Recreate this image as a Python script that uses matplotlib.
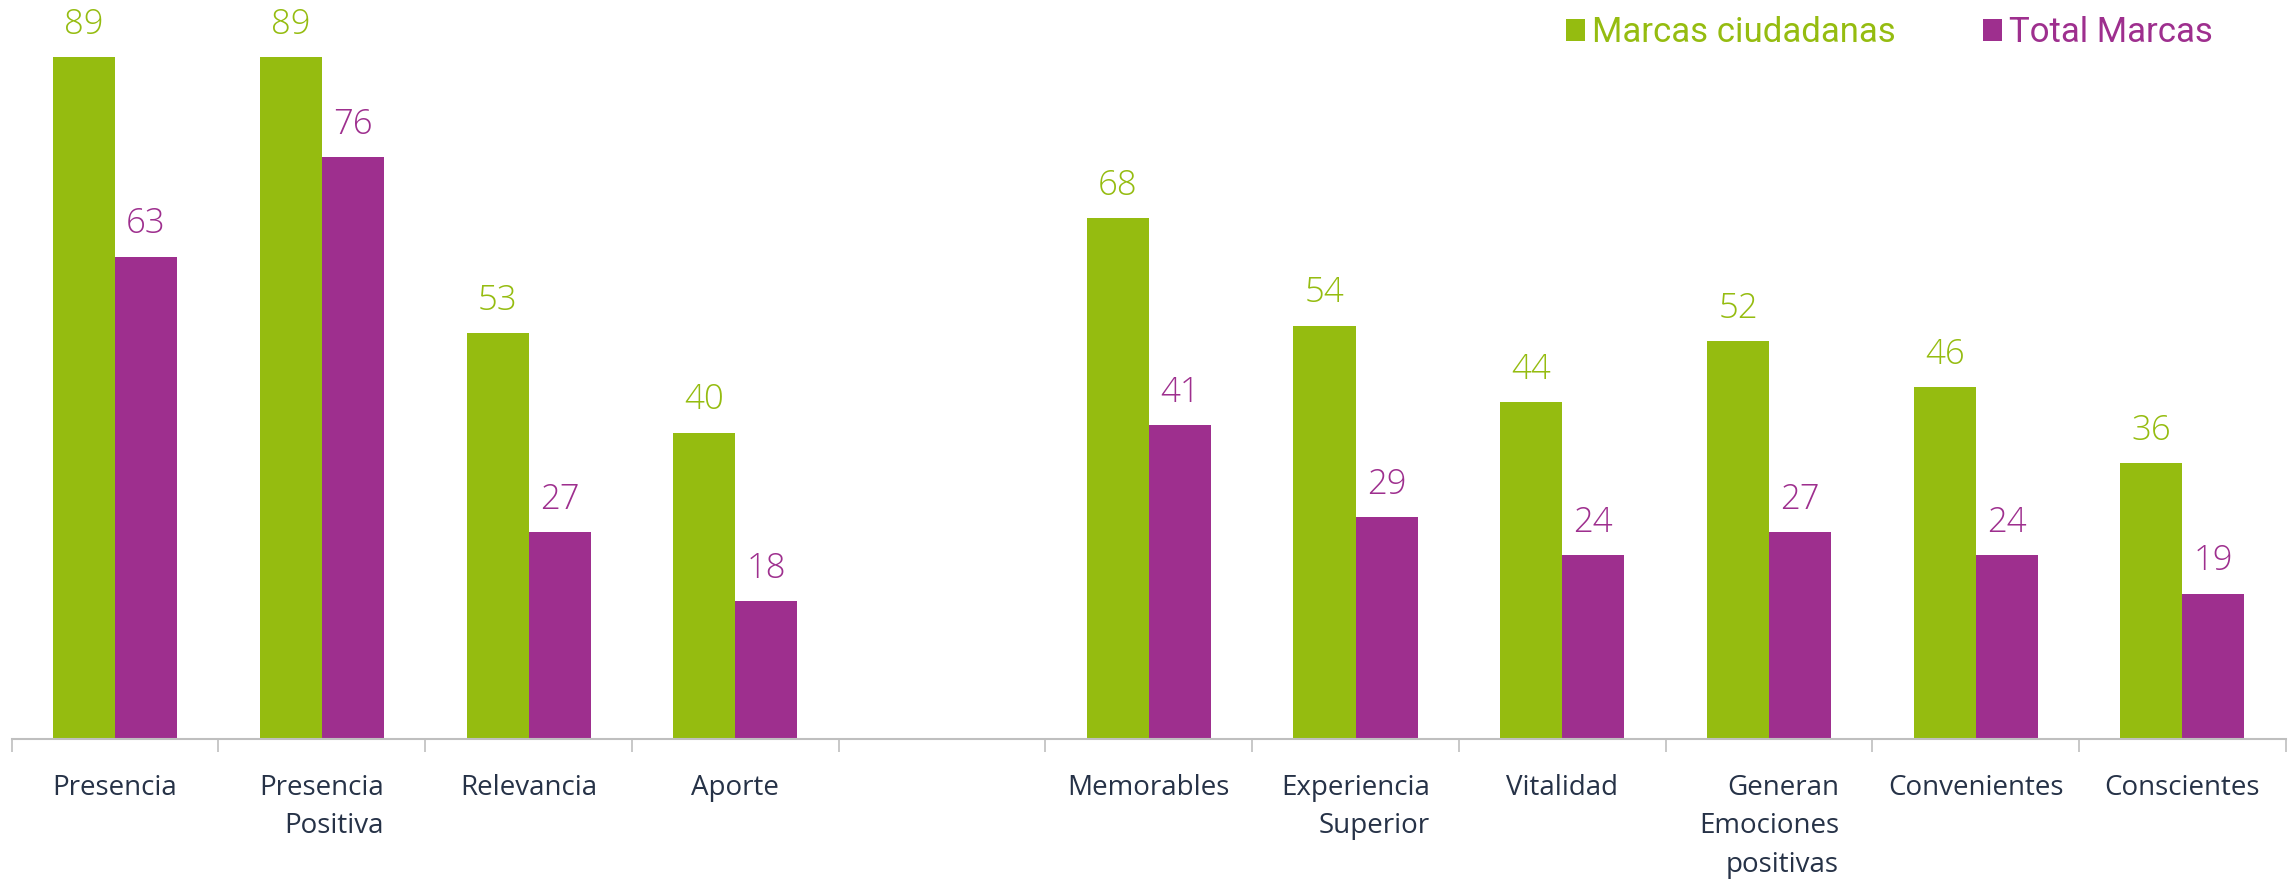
import numpy as np
import matplotlib
matplotlib.use("Agg")
import matplotlib.pyplot as plt

categories = ["Presencia", "Presencia\nPositiva", "Relevancia", "Aporte", "",
              "Memorables", "Experiencia\nSuperior", "Vitalidad",
              "Generan\nEmociones\npositivas", "Convenientes", "Conscientes"]
marcas_ciudadanas = [89, 89, 53, 40, np.nan, 68, 54, 44, 52, 46, 36]
total_marcas = [63, 76, 27, 18, np.nan, 41, 29, 24, 27, 24, 19]
series_names = ["Marcas ciudadanas", "Total Marcas"]

GREEN = "#95BC10"
PURPLE = "#9E2F8E"
LABEL = "#263247"

fig = plt.figure(figsize=(22.95, 8.82), dpi=100)
ax = fig.add_axes([0.0051, 0.162, 0.9909, 0.838])

x = np.arange(len(categories))
w = 0.3
ax.bar(x - w / 2, marcas_ciudadanas, w, color=GREEN, label=series_names[0])
ax.bar(x + w / 2, total_marcas, w, color=PURPLE, label=series_names[1])

for xi, v in zip(x, marcas_ciudadanas):
    if not np.isnan(v):
        ax.annotate(f"{v:g}", (xi - w / 2, v), xytext=(0, 11), textcoords="offset points",
                    ha="center", va="bottom", color=GREEN, fontsize=25,
                    family="Open Sans", fontweight="light")
for xi, v in zip(x, total_marcas):
    if not np.isnan(v):
        ax.annotate(f"{v:g}", (xi + w / 2, v), xytext=(0, 11), textcoords="offset points",
                    ha="center", va="bottom", color=PURPLE, fontsize=25,
                    family="Open Sans", fontweight="light")

ax.set_xlim(-0.5, len(categories) - 0.5)
ax.set_ylim(0, 96.5)
ax.set_yticks([])
for s in ["top", "right", "left"]:
    ax.spines[s].set_visible(False)
ax.spines["bottom"].set_color("#BFBFBF")
ax.spines["bottom"].set_linewidth(1.5)

ax.set_xticks(x)
ax.set_xticklabels(categories, fontsize=20, color=LABEL, family="Open Sans",
                   linespacing=1.5, multialignment="right")
ax.tick_params(axis="x", which="major", length=0, pad=25)
ax.set_xticks(np.arange(-0.5, len(categories), 1.0), minor=True)
ax.tick_params(axis="x", which="minor", length=9, color="#BFBFBF", width=1.2)

leg = ax.legend(loc="upper right", bbox_to_anchor=(0.977, 1.006), borderaxespad=0.2,
                ncol=2, frameon=False,
                handlelength=0.55, handleheight=0.6, handletextpad=0.2, columnspacing=2.5,
                prop={"family": "Roboto", "weight": "normal", "size": 25})
for t, c in zip(leg.get_texts(), [GREEN, PURPLE]):
    t.set_color(c)

fig.savefig("out.png", dpi=100)
